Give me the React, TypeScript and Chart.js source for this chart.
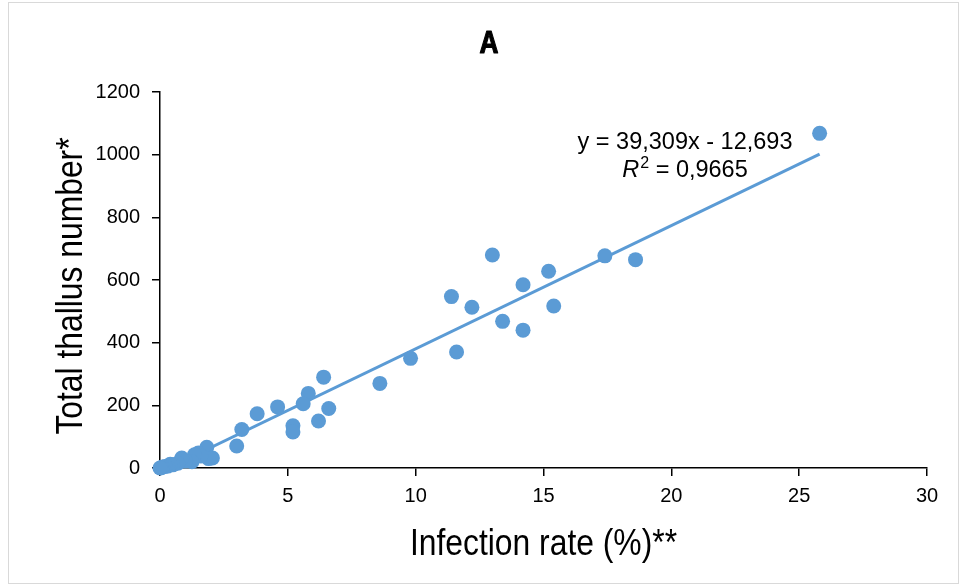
import React, { useEffect, useRef } from "react";
import { Chart, registerables } from "chart.js";

Chart.register(...registerables);

// ---- Data ----
const infectionRate = [
  25.8, 18.6, 17.4, 15.2, 15.4, 14.2, 14.2, 13.4, 13.0, 12.2, 11.4, 11.6, 9.8,
  8.6, 6.4, 6.6, 5.8, 5.6, 6.2, 5.2, 5.2, 4.6, 3.8, 3.2, 3.0, 1.83, 2.05, 1.9,
  1.5, 1.6, 1.35, 1.25, 1.0, 0.85, 0.7, 0.5, 0.4, 0.3, 0.2, 0.1, 0.05, 0,
];
const thallusNumber = [
  1068, 665, 677, 628, 517, 585, 440, 468, 680, 513, 547, 370, 350, 270, 290,
  190, 238, 205, 150, 135, 115, 195, 173, 123, 70, 66, 32, 30, 48, 38, 42, 20,
  22, 32, 15, 10, 12, 6, 5, 3, 1, 0,
];
const xTickValues = [0, 5, 10, 15, 20, 25, 30];
const yTickValues = [0, 200, 400, 600, 800, 1000, 1200];
const trendSlope = 39.309;
const trendIntercept = -12.693;

const chartTitle = "A";
const xAxisTitle = "Infection rate (%)**";
const yAxisTitle = "Total thallus number*";
const equationLabel = "y = 39,309x - 12,693";
const rSquaredLabel = "0,9665";

const BLUE = "#5B9BD5";
const FONT = "'Liberation Sans', Arial, Helvetica, sans-serif";
const TITLE_FONT = "Arial, 'Liberation Sans', 'Noto Sans', sans-serif";

function drawScaledText(
  ctx: CanvasRenderingContext2D,
  text: string,
  x: number,
  y: number,
  font: string,
  sx: number,
  align: CanvasTextAlign,
  rotate = 0,
  strokeW = 0
) {
  ctx.save();
  ctx.translate(x, y);
  if (rotate) ctx.rotate(rotate);
  ctx.scale(sx, 1);
  ctx.font = font;
  ctx.textAlign = align;
  ctx.textBaseline = "alphabetic";
  ctx.fillStyle = "#000";
  ctx.fillText(text, 0, 0);
  if (strokeW > 0) {
    ctx.strokeStyle = "#000";
    ctx.lineWidth = strokeW;
    ctx.lineJoin = "round";
    ctx.strokeText(text, 0, 0);
  }
  ctx.restore();
}

const decorPlugin = {
  id: "decor",
  beforeDraw(chart: any) {
    const ctx = chart.ctx as CanvasRenderingContext2D;
    ctx.save();
    ctx.fillStyle = "#fff";
    ctx.fillRect(0, 0, chart.width, chart.height);
    ctx.strokeStyle = "#d9d9d9";
    ctx.lineWidth = 1;
    ctx.strokeRect(8.5, 2.5, chart.width - 10, chart.height - 5);
    ctx.restore();
  },
  afterDraw(chart: any) {
    const ctx = chart.ctx as CanvasRenderingContext2D;
    // Title
    drawScaledText(ctx, chartTitle, 489, 53, `700 32px ${TITLE_FONT}`, 0.82, "center", 0, 1.2);
    // Axis titles
    drawScaledText(ctx, xAxisTitle, 543.5, 555, `37px ${FONT}`, 0.86, "center");
    drawScaledText(ctx, yAxisTitle, 82, 286, `37px ${FONT}`, 0.86, "center", -Math.PI / 2);
    // Trendline equation
    drawScaledText(ctx, equationLabel, 685, 149, `23.5px ${FONT}`, 1, "center");
    // R² line: italic R, raised 2, then the rest
    ctx.save();
    const rest = " = " + rSquaredLabel;
    ctx.font = `italic 23.5px ${FONT}`;
    const wR = ctx.measureText("R").width;
    ctx.font = `16px ${FONT}`;
    const wSup = ctx.measureText("2").width;
    ctx.font = `23.5px ${FONT}`;
    const wRest = ctx.measureText(rest).width;
    ctx.restore();
    const total = wR + wSup + 1 + wRest;
    const startX = 685 - total / 2;
    drawScaledText(ctx, "R", startX, 177, `italic 23.5px ${FONT}`, 1, "left");
    drawScaledText(ctx, "2", startX + wR + 1, 168, `16px ${FONT}`, 1, "left");
    drawScaledText(ctx, rest, startX + wR + 1 + wSup, 177, `23.5px ${FONT}`, 1, "left");
  },
};

export default function App() {
  const canvasRef = useRef<HTMLCanvasElement | null>(null);

  useEffect(() => {
    if (!canvasRef.current) return;
    const points = infectionRate.map((x, i) => ({ x, y: thallusNumber[i] }));
    const xStart = -trendIntercept / trendSlope;
    const xEnd = Math.max(...infectionRate);
    const trend = [
      { x: xStart, y: trendSlope * xStart + trendIntercept },
      { x: xEnd, y: trendSlope * xEnd + trendIntercept },
    ];

    const tickFont = { family: FONT, size: 20 };

    const chart = new Chart(canvasRef.current, {
      type: "scatter",
      data: {
        datasets: [
          {
            type: "line",
            label: "Trend",
            data: trend,
            borderColor: BLUE,
            borderWidth: 3,
            pointRadius: 0,
            fill: false,
            showLine: true,
            order: 2,
          } as any,
          {
            type: "scatter",
            label: "Data",
            data: points,
            backgroundColor: BLUE,
            borderColor: BLUE,
            borderWidth: 0,
            pointRadius: 7.5,
            pointHoverRadius: 7.5,
            clip: false,
            order: 1,
          } as any,
        ],
      },
      options: {
        responsive: false,
        animation: false,
        events: [],
        layout: { padding: { top: 92, right: 33, bottom: 0, left: 0 } },
        plugins: {
          legend: { display: false },
          title: { display: false },
          tooltip: { enabled: false },
        },
        scales: {
          x: {
            type: "linear",
            min: 0,
            max: 30,
            afterBuildTicks: (s: any) => {
              s.ticks = xTickValues.map((v) => ({ value: v }));
            },
            afterFit: (s: any) => {
              s.height = 118;
            },
            ticks: {
              font: tickFont,
              color: "#000",
              padding: 8,
              maxRotation: 0,
              callback: (v: any) => String(v),
            },
            grid: {
              drawOnChartArea: false,
              drawTicks: true,
              tickLength: 8,
              color: "#000",
              lineWidth: 1.5,
            },
            border: { color: "#000", width: 1.5 },
          },
          y: {
            type: "linear",
            min: 0,
            max: 1200,
            afterBuildTicks: (s: any) => {
              s.ticks = yTickValues.map((v) => ({ value: v }));
            },
            afterFit: (s: any) => {
              s.width = 160;
            },
            ticks: {
              font: tickFont,
              color: "#000",
              padding: 12,
              callback: (v: any) => String(v),
            },
            grid: {
              drawOnChartArea: false,
              drawTicks: true,
              tickLength: 8,
              color: "#000",
              lineWidth: 1.5,
            },
            border: { color: "#000", width: 1.5 },
          },
        },
      } as any,
      plugins: [decorPlugin],
    });

    return () => chart.destroy();
  }, []);

  return (
    <div
      style={{
        position: "absolute",
        left: 0,
        top: 0,
        width: 960,
        height: 586,
        background: "#fff",
      }}
    >
      <canvas
        ref={canvasRef}
        width={960}
        height={586}
        style={{ display: "block", width: 960, height: 586 }}
      />
    </div>
  );
}
